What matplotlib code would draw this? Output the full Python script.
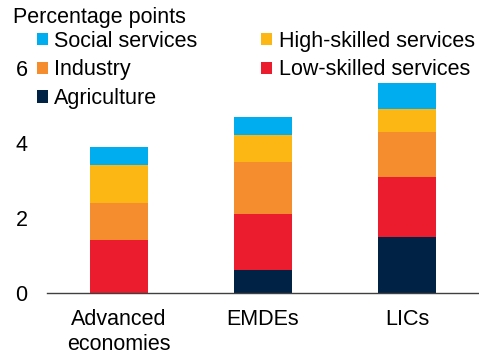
import matplotlib
matplotlib.use("Agg")
import matplotlib.pyplot as plt
from matplotlib.patches import Patch
import numpy as np

plt.rcParams['font.family'] = ['Liberation Sans', 'DejaVu Sans']

groups = ["Advanced\neconomies", "EMDEs", "LICs"]
agriculture = [0.0, 0.6, 1.5]
low_skilled = [1.4, 1.5, 1.6]
industry = [1.0, 1.4, 1.2]
high_skilled = [1.0, 0.7, 0.6]
social = [0.5, 0.5, 0.7]
yticks = [0, 2, 4, 6]

series = [
    ("Agriculture", agriculture, "#002345"),
    ("Low-skilled services", low_skilled, "#EB1C2D"),
    ("Industry", industry, "#F58C2E"),
    ("High-skilled services", high_skilled, "#FDB714"),
    ("Social services", social, "#00AEEF"),
]

fig = plt.figure(figsize=(4.79, 3.56), dpi=100)
ax = fig.add_axes([0.098, 0.177, 0.902, 0.78])

x = np.arange(len(groups))
bottom = np.zeros(len(groups))
for name, vals, col in series:
    ax.bar(x, vals, width=0.4, bottom=bottom, color=col, edgecolor="none")
    bottom += np.array(vals)

ax.set_xlim(-0.5, 2.5)
ax.set_ylim(0, 7.4)
ax.set_yticks(yticks)
ax.set_xticks(x)
ax.set_xticklabels(groups, fontsize=15.5, linespacing=1.25)
ax.tick_params(axis="y", length=0, labelsize=15.5, pad=14)
ax.tick_params(axis="x", length=0, pad=11.5)
for s in ["top", "right", "left"]:
    ax.spines[s].set_visible(False)
ax.spines["bottom"].set_color("#404040")
ax.spines["bottom"].set_linewidth(1.0)

fig.text(0.027, 0.95, "Percentage points", fontsize=15.5, va="center", ha="left")

colors = {n: c for n, _, c in series}
order = ["Social services", "Industry", "Agriculture",
         "High-skilled services", "Low-skilled services"]
handles = [Patch(facecolor=colors[n], edgecolor="none") for n in order]
leg = fig.legend(handles, order, ncol=2, loc="upper left",
                 bbox_to_anchor=(0.077, 0.914), bbox_transform=fig.transFigure,
                 frameon=False,
                 fontsize=15.5, handlelength=0.5, handleheight=0.5,
                 handletextpad=0.3, labelspacing=0.36, columnspacing=2.97,
                 borderaxespad=0.0, borderpad=0.0)

fig.savefig("out.png", dpi=100)
